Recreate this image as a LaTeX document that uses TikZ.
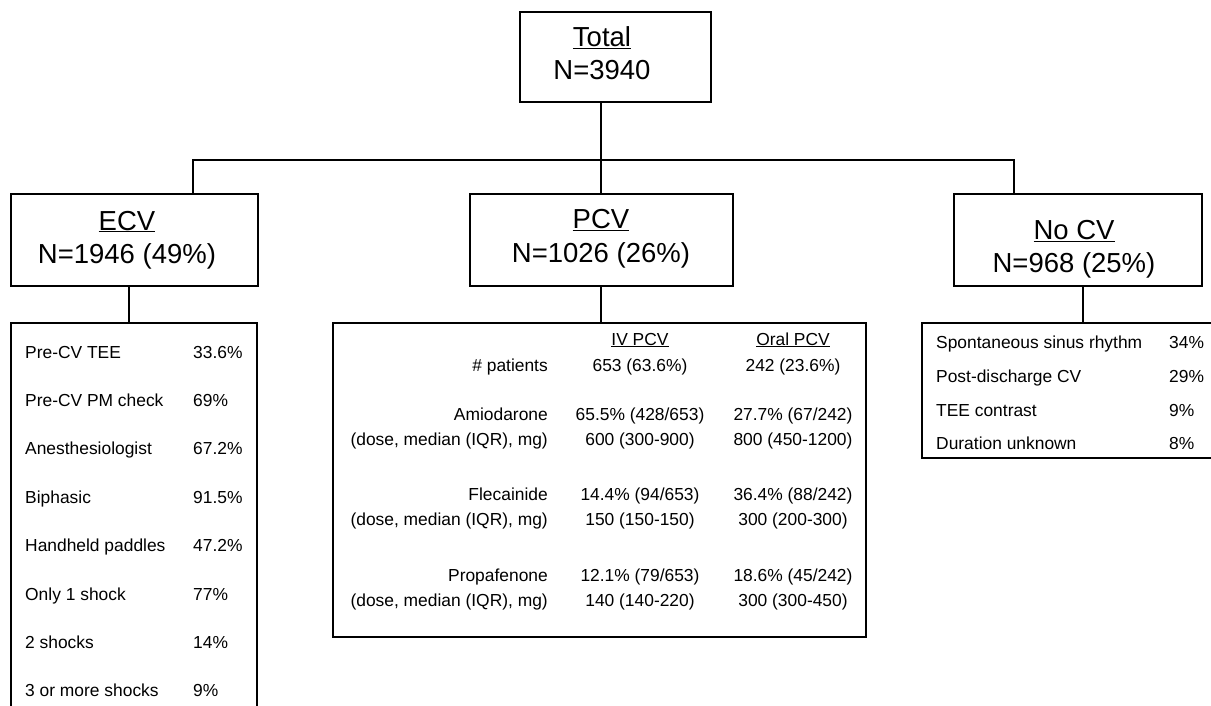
\documentclass[tikz,border=0pt]{standalone}
\usepackage{fontspec}
\setmainfont{Liberation Sans}
\begin{document}
\begin{tikzpicture}[x=1pt,y=-1pt,
  box/.style={draw, line width=1.7pt, inner sep=0pt, outer sep=0pt},
  conn/.style={line width=1.4pt},
  big/.style={font=\fontsize{27.5}{33}\selectfont, anchor=base, inner sep=0pt},
  sml/.style={font=\fontsize{17.4}{20}\selectfont, anchor=base west, inner sep=0pt},
  smr/.style={font=\fontsize{17.4}{20}\selectfont, anchor=base east, inner sep=0pt},
  smc/.style={font=\fontsize{17.4}{20}\selectfont, anchor=base, inner sep=0pt}]
\clip (0,0) rectangle (1211,706);
\fill[white] (0,0) rectangle (1211,706);

% boxes
\node[box, minimum width=191pt, minimum height=90pt] (total) at (615.5,57) {};
\node[box, minimum width=247pt, minimum height=92pt] (ecv) at (134.5,240) {};
\node[box, minimum width=263pt, minimum height=92pt] (pcv) at (601.5,240) {};
\node[box, minimum width=248pt, minimum height=92pt] (nocv) at (1078,240) {};
\node[box, minimum width=246pt, minimum height=397pt] (ecvlist) at (134,521.5) {};
\node[box, minimum width=533pt, minimum height=314pt] (pcvtab) at (599.5,480) {};
\node[box, minimum width=308pt, minimum height=135pt] (nocvlist) at (1076,390.5) {};

% box titles
\node[big] (tt) at (602,47) {\underline{Total}};
\node[big] (tn) at (602,80) {N=3940};
\node[big] (et) at (127,230) {\underline{ECV}};
\node[big] (en) at (127,263) {N=1946 (49\%)};
\node[big] (pt) at (601,229) {\underline{PCV}};
\node[big] (pn) at (601,262) {N=1026 (26\%)};
\node[big] (nt) at (1074,240) {\underline{No CV}};
\node[big] (nn) at (1074,272) {N=968 (25\%)};

% connectors
\coordinate (busL) at (193,160);
\coordinate (busM) at (601,160);
\coordinate (busR) at (1014,160);
\draw[conn] (busM |- total.south) -- (busM);
\draw[conn] (busL |- ecv.north) -- (busL) -- (busR) -- (busR |- nocv.north);
\draw[conn] (busM) -- (busM |- pcv.north);
\coordinate (ed) at (129,300);
\coordinate (pd) at (601,300);
\coordinate (nd) at (1083,300);
\draw[conn] (ed |- ecv.south) -- (ed |- ecvlist.north);
\draw[conn] (pd |- pcv.south) -- (pd |- pcvtab.north);
\draw[conn] (nd |- nocv.south) -- (nd |- nocvlist.north);

% ECV list
\node[sml] (e1) at (25,358) {Pre-CV TEE};        \node[sml] (e1p) at (193,358) {33.6\%};
\node[sml] (e2) at (25,406.4) {Pre-CV PM check}; \node[sml] (e2p) at (193,406.4) {69\%};
\node[sml] (e3) at (25,454.8) {Anesthesiologist};\node[sml] (e3p) at (193,454.8) {67.2\%};
\node[sml] (e4) at (25,503.2) {Biphasic};        \node[sml] (e4p) at (193,503.2) {91.5\%};
\node[sml] (e5) at (25,551.6) {Handheld paddles};\node[sml] (e5p) at (193,551.6) {47.2\%};
\node[sml] (e6) at (25,600) {Only 1 shock};      \node[sml] (e6p) at (193,600) {77\%};
\node[sml] (e7) at (25,648.4) {2 shocks};        \node[sml] (e7p) at (193,648.4) {14\%};
\node[sml] (e8) at (25,696.8) {3 or more shocks};\node[sml] (e8p) at (193,696.8) {9\%};

% PCV table
\node[smc] (h1) at (640,345) {\underline{IV PCV}};
\node[smc] (h2) at (793,345) {\underline{Oral PCV}};
\node[smr] (r1) at (548,371) {\# patients};
\node[smc] (r1a) at (640,371) {653 (63.6\%)};
\node[smc] (r1b) at (793,371) {242 (23.6\%)};
\node[smr] (r2) at (548,420) {Amiodarone};
\node[smc] (r2a) at (640,420) {65.5\% (428/653)};
\node[smc] (r2b) at (793,420) {27.7\% (67/242)};
\node[smr] (r3) at (548,445) {(dose, median (IQR), mg)};
\node[smc] (r3a) at (640,445) {600 (300-900)};
\node[smc] (r3b) at (793,445) {800 (450-1200)};
\node[smr] (r4) at (548,500) {Flecainide};
\node[smc] (r4a) at (640,500) {14.4\% (94/653)};
\node[smc] (r4b) at (793,500) {36.4\% (88/242)};
\node[smr] (r5) at (548,525) {(dose, median (IQR), mg)};
\node[smc] (r5a) at (640,525) {150 (150-150)};
\node[smc] (r5b) at (793,525) {300 (200-300)};
\node[smr] (r6) at (548,581) {Propafenone};
\node[smc] (r6a) at (640,581) {12.1\% (79/653)};
\node[smc] (r6b) at (793,581) {18.6\% (45/242)};
\node[smr] (r7) at (548,606) {(dose, median (IQR), mg)};
\node[smc] (r7a) at (640,606) {140 (140-220)};
\node[smc] (r7b) at (793,606) {300 (300-450)};

% No CV list
\node[sml] (n1) at (936,348) {Spontaneous sinus rhythm}; \node[sml] (n1p) at (1169,348) {34\%};
\node[sml] (n2) at (936,382) {Post-discharge CV};        \node[sml] (n2p) at (1169,382) {29\%};
\node[sml] (n3) at (936,416) {TEE contrast};             \node[sml] (n3p) at (1169,416) {9\%};
\node[sml] (n4) at (936,449) {Duration unknown};         \node[sml] (n4p) at (1169,449) {8\%};
\end{tikzpicture}
\end{document}
